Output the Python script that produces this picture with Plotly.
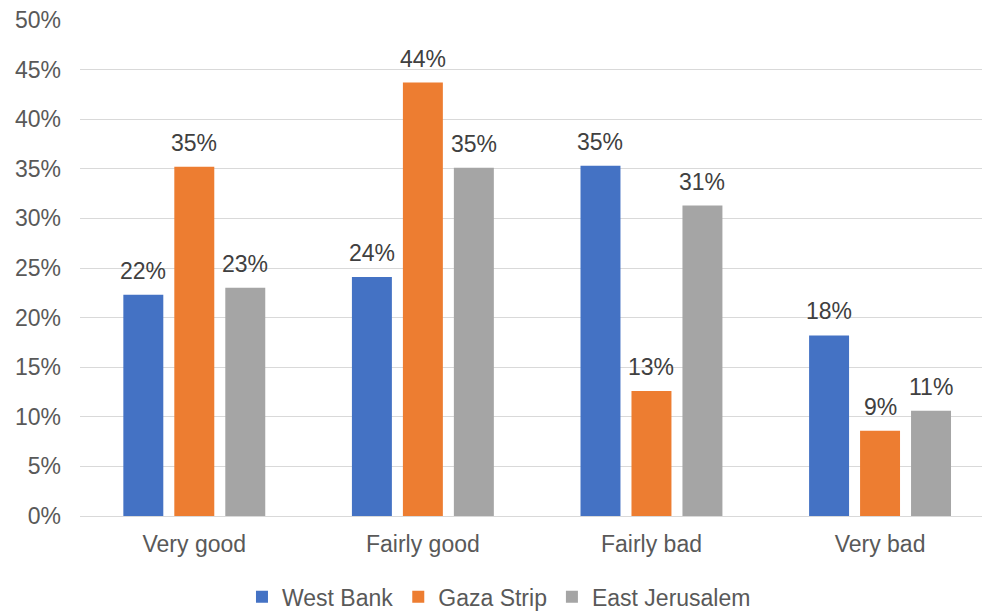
import plotly.graph_objects as go

categories = ["Very good", "Fairly good", "Fairly bad", "Very bad"]
west_bank = [22.3, 24.1, 35.3, 18.2]
gaza_strip = [35.2, 43.7, 12.6, 8.6]
east_jerusalem = [23.0, 35.1, 31.3, 10.6]
series_names = ["West Bank", "Gaza Strip", "East Jerusalem"]
series_values = [west_bank, gaza_strip, east_jerusalem]
colors = ["#4472C4", "#ED7D31", "#A5A5A5"]
y_ticks = [0, 5, 10, 15, 20, 25, 30, 35, 40, 45, 50]

FONT = "Arial, Liberation Sans, sans-serif"
BARGAP = 0.331
BARGROUPGAP = 0.216

fig = go.Figure()
for name, vals, col in zip(series_names, series_values, colors):
    fig.add_trace(go.Bar(
        x=categories, y=vals, name=name,
        marker=dict(color=col, line=dict(width=0)),
    ))

# data labels above each bar
n = len(series_names)
slot = (1 - BARGAP) / n
for j, vals in enumerate(series_values):
    for i, v in enumerate(vals):
        fig.add_annotation(
            x=i + (j - (n - 1) / 2) * slot, y=v, xref="x", yref="y",
            text=f"{round(v)}%", showarrow=False,
            yanchor="bottom", yshift=9,
            font=dict(family=FONT, size=23, color="#404040"),
        )

fig.update_layout(
    width=982, height=611,
    margin=dict(l=80, r=0, t=20, b=95, autoexpand=False),
    paper_bgcolor="white", plot_bgcolor="white",
    barmode="group", bargap=BARGAP, bargroupgap=BARGROUPGAP,
    font=dict(family=FONT, size=23, color="#595959"),
    showlegend=True,
    legend=dict(
        orientation="h", xref="paper", yref="paper",
        x=0.4645, xanchor="center", y=-0.163, yanchor="middle",
        font=dict(family=FONT, size=23, color="#595959"),
        itemwidth=30, tracegroupgap=0,
    ),
    xaxis=dict(
        range=[-0.5, 3.446],
        showgrid=False, showline=False, zeroline=False, ticks="",
        ticklabelstandoff=12, automargin=False,
        tickfont=dict(family=FONT, size=23, color="#595959"),
    ),
    yaxis=dict(
        range=[0, 50], tickvals=y_ticks, ticktext=[f"{t}%" for t in y_ticks],
        showgrid=True, gridcolor="#D9D9D9", gridwidth=1,
        zeroline=True, zerolinecolor="#D9D9D9", zerolinewidth=1,
        showline=False, ticks="", ticklabelstandoff=18, automargin=False,
        tickfont=dict(family=FONT, size=23, color="#595959"),
    ),
)

fig.write_html(
    "out.html",
    config={"displayModeBar": False},
    post_script="document.body.style.margin='0';",
)
